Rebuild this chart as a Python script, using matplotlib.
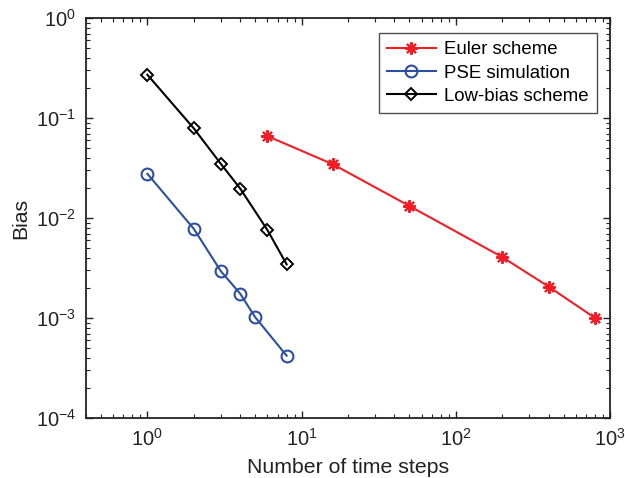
import matplotlib
matplotlib.use("Agg")
import matplotlib.pyplot as plt
from matplotlib.ticker import LogLocator, NullFormatter

plt.rcParams['font.family'] = ['Liberation Sans', 'DejaVu Sans']
plt.rcParams['mathtext.fontset'] = 'custom'
plt.rcParams['mathtext.rm'] = 'Liberation Sans'
plt.rcParams['mathtext.it'] = 'Liberation Sans:italic'
plt.rcParams['mathtext.bf'] = 'Liberation Sans:bold'

euler_x = [6, 16, 50, 200, 400, 800]
euler_y = [0.066, 0.0344, 0.0132, 0.00407, 0.00206, 0.00100]
pse_x = [1, 2, 3, 4, 5, 8]
pse_y = [0.0277, 0.0078, 0.00293, 0.00175, 0.00102, 0.00042]
low_x = [1, 2, 3, 4, 6, 8]
low_y = [0.271, 0.0788, 0.0347, 0.0197, 0.0076, 0.00344]

fig = plt.figure(figsize=(6.25, 4.78), dpi=100)
ax = fig.add_axes([0.1376, 0.1255, 0.976 - 0.1376, 0.9623 - 0.1255])

red = '#f51d25'
blue = '#2c4ea3'
ax.plot(euler_x, euler_y, color=red, lw=1.5, marker=(8, 2, 0), ms=9,
        mfc=red, mec=red, mew=1.5, label='Euler scheme')
ax.plot(pse_x, pse_y, color=blue, lw=1.5, marker='o', ms=8.5,
        mfc='none', mec=blue, mew=1.5, label='PSE simulation')
ax.plot(low_x, low_y, color='black', lw=1.5, marker='D', ms=6.5,
        mfc='none', mec='black', mew=1.4, label='Low-bias scheme')

ax.set_xscale('log')
ax.set_yscale('log')
ax.set_xlim(0.4, 1000)
ax.set_ylim(1e-4, 1)
ax.xaxis.set_major_locator(LogLocator(base=10, numticks=10))
ax.yaxis.set_major_locator(LogLocator(base=10, numticks=10))
ax.xaxis.set_minor_locator(LogLocator(base=10, subs=range(2, 10), numticks=20))
ax.yaxis.set_minor_locator(LogLocator(base=10, subs=range(2, 10), numticks=20))
ax.xaxis.set_minor_formatter(NullFormatter())
ax.yaxis.set_minor_formatter(NullFormatter())

ax.tick_params(which='both', direction='in', top=True, right=True, labelsize=14.5, colors='#222222')
ax.tick_params(which='major', length=5, width=1.0, pad=7)
ax.tick_params(which='minor', length=3, width=0.8)
for s in ax.spines.values():
    s.set_linewidth(1.3)
    s.set_color('#222222')

ax.set_xlabel('Number of time steps', fontsize=15.3, color='#222222', labelpad=6)
ax.set_ylabel('Bias', fontsize=15.3, color='#222222', labelpad=4)

leg = ax.legend(loc='upper right', fontsize=13.4, frameon=True, fancybox=False,
                edgecolor='#222222', borderpad=0.45, handlelength=2.6,
                handletextpad=0.45, labelspacing=0.33, borderaxespad=0,
                bbox_to_anchor=(0.975, 0.9625))
leg.get_frame().set_linewidth(1.0)

fig.savefig('out.png', dpi=100)
